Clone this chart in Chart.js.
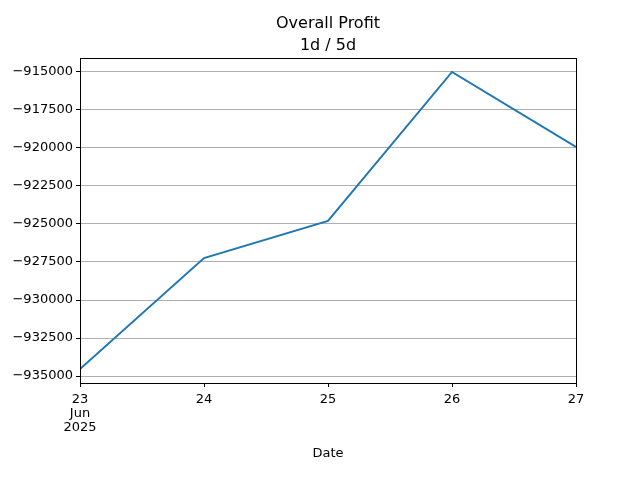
<!DOCTYPE html>
<html><head><script src="https://cdn.jsdelivr.net/npm/chart.js@4"></script>
<style>body{margin:0}canvas{display:block}</style></head><body>
<div style="width:640px;height:480px"><canvas id="c" width="640" height="480"></canvas></div>
<script>
const categories = [0,1,2,3,4];
const tickLabels = [["23","Jun","2025"],"24","25","26","27"];
const profit = [-934540,-927240,-924800,-915000,-919930];
const titleLines = ["Overall Profit","1d / 5d"];
const F = "DejaVu Sans";
const framePlugin = {id:'frame', afterDraw(ch){const a=ch.chartArea,c=ch.ctx;c.save();c.strokeStyle='#000';c.lineWidth=1;c.strokeRect(Math.round(a.left)+0.5,Math.round(a.top)+0.5,Math.round(a.right-a.left),Math.round(a.bottom-a.top));
c.fillStyle='#000';c.font='16px "'+F+'"';c.textAlign='center';c.textBaseline='alphabetic';c.fillText(titleLines[0],328,28);c.fillText(titleLines[1],328,50);c.restore();}};
new Chart(document.getElementById('c'),{type:'line',
data:{datasets:[{data:categories.map((x,i)=>({x:x,y:profit[i]})),borderColor:'#1f77b4',borderWidth:2,pointRadius:0,tension:0}]},
options:{responsive:false,animation:false,layout:{padding:{left:0,right:64,top:58,bottom:15}},
plugins:{legend:{display:false},title:{display:false},tooltip:{enabled:false}},
scales:{
x:{type:'linear',min:0,max:4,afterFit(s){s.height=82;},afterBuildTicks(s){s.ticks=categories.map(v=>({value:v}));},
grid:{drawOnChartArea:false,tickLength:4,tickColor:'#000'},border:{display:false},
ticks:{color:'#000',font:{family:F,size:13,lineHeight:1.1},maxRotation:0,padding:5,callback:(v)=>tickLabels[v]},
title:{display:true,text:'Date',color:'#000',font:{family:F,size:13},padding:{top:4}}},
y:{min:-935460,max:-914080,afterFit(s){s.width=80;},afterBuildTicks(s){const t=[];for(let v=-935000;v<=-915000;v+=2500)t.push({value:v});s.ticks=t;},
grid:{color:'#b0b0b0',tickLength:4,tickColor:'#000'},border:{display:false},
ticks:{color:'#000',font:{family:F,size:13},padding:3,callback:(v)=>String(v).replace('-','\u2212')}}}},
plugins:[framePlugin]});
</script></body></html>
